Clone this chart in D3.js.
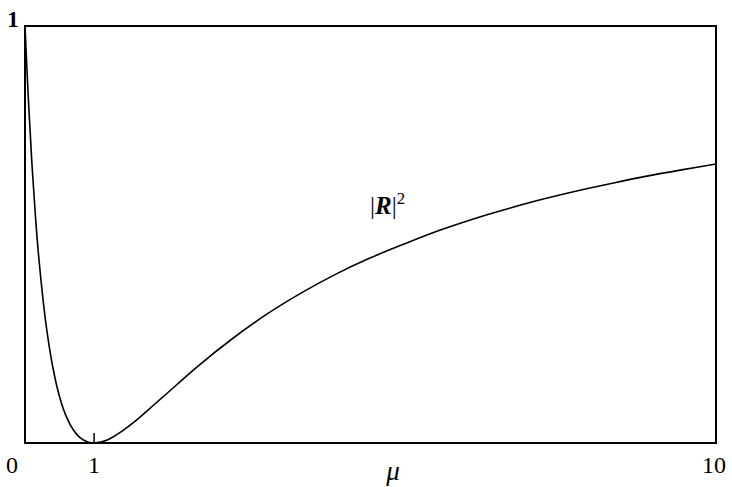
<!DOCTYPE html>
<html><head><meta charset="utf-8">
<script src="https://cdn.jsdelivr.net/npm/d3@7"></script>
<style>body{margin:0;background:#fff}svg{display:block}</style>
</head><body>
<svg id="c" width="732" height="487"></svg>
<script>
const mu = [0,0.05,0.1,0.15,0.2,0.3,0.4,0.5,0.6,0.7,0.8,0.9,1.0,1.2,1.4,1.6,1.8,2.0,2.5,3.0,3.5,4.0,4.5,5.0,5.5,6.0,6.5,7.0,7.5,8.0,8.5,9.0,9.5,10];
const R2 = [1.0,0.82,0.67,0.546,0.444,0.29,0.184,0.111,0.0625,0.031,0.012,0.003,0,0.008,0.028,0.053,0.082,0.111,0.184,0.25,0.309,0.36,0.405,0.444,0.478,0.51,0.538,0.5625,0.585,0.605,0.623,0.64,0.655,0.669];
const xTicks = [0,1,10];
const xTickLabels = ["0","1","10"];
const yLabel = "1";
const xTitle = "μ";

const svg = d3.select("#c");
const L=25, R=716, T=26, B=443;
const x = d3.scaleLinear().domain([0,10]).range([L,R]);
const y = d3.scaleLinear().domain([0,1]).range([B,T]);
const font = "Liberation Serif";

svg.append("rect").attr("x",L).attr("y",T).attr("width",R-L).attr("height",B-T)
  .attr("fill","none").attr("stroke","#000").attr("stroke-width",2);

svg.append("line").attr("x1",x(1)).attr("x2",x(1)).attr("y1",B).attr("y2",B-10)
  .attr("stroke","#000").attr("stroke-width",1.5);

const labX = [x(0)-13, x(1), x(10)-2];
xTicks.forEach((t,i)=>{
  svg.append("text").attr("x",labX[i]).attr("y",473).attr("text-anchor","middle")
    .attr("font-family",font).attr("font-size",24).text(xTickLabels[i]);
});
svg.append("text").attr("x",x(0)-12).attr("y",27).attr("text-anchor","middle")
  .attr("font-family",font).attr("font-size",23).attr("font-weight","bold").text(yLabel);

svg.append("text").attr("x",393).attr("y",480).attr("text-anchor","middle")
  .attr("font-family",font).attr("font-size",27).attr("font-style","italic").text(xTitle);

const line = d3.line().x((d,i)=>x(mu[i])).y((d,i)=>y(R2[i])).curve(d3.curveCatmullRom.alpha(0.5));
svg.append("path").datum(R2).attr("d",line).attr("fill","none").attr("stroke","#000").attr("stroke-width",1.6);

const t = svg.append("text").attr("x",370).attr("y",214).attr("font-family",font).attr("font-size",25);
t.append("tspan").text("|");
t.append("tspan").attr("font-style","italic").attr("font-weight","bold").text("R");
t.append("tspan").text("|");
t.append("tspan").attr("font-size",17).attr("dy",-10).text("2");
</script>
</body></html>
